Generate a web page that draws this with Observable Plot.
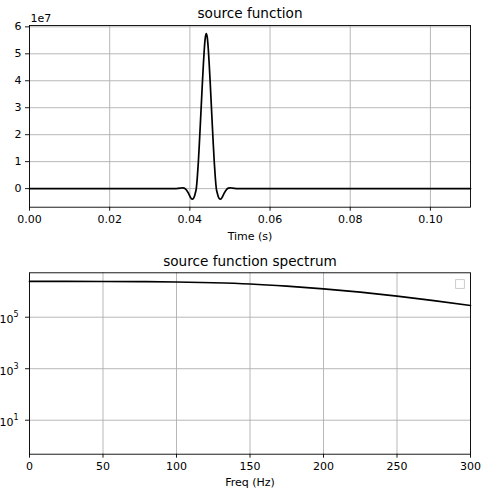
<!DOCTYPE html>
<html>
<head>
<meta charset="utf-8">
<script src="https://cdn.jsdelivr.net/npm/d3@7"></script>
<script src="https://cdn.jsdelivr.net/npm/@observablehq/plot@0.6"></script>
<style>
  html, body { margin: 0; padding: 0; background: white; }
  #chart { position: relative; width: 481px; height: 492px; background: white; }
  #chart svg { display: block; }
</style>
</head>
<body>
<div id="chart"></div>
<script>
// ---- data ----
const pulseTime = [0, 0.02, 0.03, 0.0366, 0.0376, 0.0381, 0.0386, 0.0391, 0.0396, 0.0401, 0.04035, 0.0406, 0.04085, 0.0411, 0.04135, 0.0416, 0.04185, 0.0421, 0.04235, 0.0426, 0.04285, 0.0431, 0.04335, 0.0436, 0.04385, 0.0441,
  0.04435, 0.0446, 0.04485, 0.0451, 0.04535, 0.0456, 0.04585, 0.0461, 0.04635, 0.0466, 0.04685, 0.0471, 0.04735, 0.0476, 0.04785, 0.0481, 0.0486, 0.0491, 0.0496, 0.0501, 0.0506, 0.0516, 0.06, 0.08, 0.11];
const pulseAmplitudeE7 = [0, 0, 0, 0, 0.015, 0.03, 0.02, -0.04, -0.16, -0.31, -0.37, -0.39, -0.37, -0.30, -0.17, 0.0, 0.40, 0.95, 1.62, 2.35, 3.10, 3.85, 4.55, 5.17, 5.60, 5.75,
  5.60, 5.17, 4.55, 3.85, 3.10, 2.35, 1.62, 0.95, 0.40, 0.0, -0.17, -0.30, -0.37, -0.39, -0.37, -0.31, -0.16, -0.04, 0.02, 0.03, 0.015, 0, 0, 0, 0];

const spectrumFreq = [0, 25, 50, 75, 100, 125, 150, 175, 200, 225, 250, 275, 300];
const spectrumAmplitude = [2.45e6, 2.45e6, 2.44e6, 2.40e6, 2.33e6, 2.18e6, 1.95e6, 1.62e6, 1.27e6, 9.4e5, 6.6e5, 4.4e5, 2.85e5];

const timeTicks = [0, 0.02, 0.04, 0.06, 0.08, 0.10];
const amplitudeTicks = [0, 1, 2, 3, 4, 5, 6];
const freqTicks = [0, 50, 100, 150, 200, 250, 300];
const logTicks = [10, 1000, 100000];
const logTickBase = "10";
const logTickExponents = ["1", "3", "5"];

const topTitle = "source function";
const bottomTitle = "source function spectrum";
const topXLabel = "Time (s)";
const bottomXLabel = "Freq (Hz)";
const offsetLabel = "1e7";

// ---- build ----
const pulse = pulseTime.map((t, i) => ({t, v: pulseAmplitudeE7[i]}));
const spectrum = spectrumFreq.map((f, i) => ({f, a: spectrumAmplitude[i]}));
const logLabels = logTicks.map((v, i) => ({v, e: logTickExponents[i]}));

const FONT = "'DejaVu Sans', sans-serif";
const GRID = {stroke: "#b0b0b0", strokeOpacity: 1, strokeWidth: 0.9};
const plotStyle = {fontFamily: FONT, fontSize: "11px", color: "black", background: "white", overflow: "visible"};
const AXIS = {tickSize: 4, tickPadding: 4, label: null, strokeWidth: 0.9, fontSize: 11};

const topPlot = Plot.plot({
  width: 481, height: 250,
  marginTop: 25, marginBottom: 43.3, marginLeft: 29, marginRight: 11,
  style: plotStyle,
  x: {domain: [0, 0.11]},
  y: {domain: [-0.69, 6.05]},
  marks: [
    Plot.gridX(timeTicks, GRID),
    Plot.gridY(amplitudeTicks, GRID),
    Plot.line(pulse, {x: "t", y: "v", stroke: "black", strokeWidth: 1.7, curve: "monotone-x"}),
    Plot.frame({stroke: "black", strokeWidth: 0.9}),
    Plot.axisX(timeTicks, {...AXIS, tickFormat: d3.format(".2f")}),
    Plot.axisY(amplitudeTicks, {...AXIS, tickFormat: d => String(d)}),
    Plot.text([topTitle], {frameAnchor: "top", lineAnchor: "middle", dy: -12, fontSize: 13.6, fill: "black"}),
    Plot.text([topXLabel], {frameAnchor: "bottom", lineAnchor: "middle", dy: 29.3, fontSize: 11, fill: "black"}),
    Plot.text([offsetLabel], {frameAnchor: "top-left", lineAnchor: "middle", dx: 1, dy: -6.7, textAnchor: "start", fontSize: 11, fill: "black"})
  ]
});

const bottomPlot = Plot.plot({
  width: 481, height: 242,
  marginTop: 22.3, marginBottom: 38.3, marginLeft: 29, marginRight: 11,
  style: plotStyle,
  x: {domain: [0, 300]},
  y: {type: "log", domain: [0.479, 5.3e6]},
  marks: [
    Plot.gridX(freqTicks, GRID),
    Plot.gridY(logTicks, GRID),
    Plot.line(spectrum, {x: "f", y: "a", stroke: "black", strokeWidth: 1.7, curve: "monotone-x"}),
    Plot.frame({stroke: "black", strokeWidth: 0.9}),
    Plot.axisX(freqTicks, {...AXIS, tickFormat: d => String(d)}),
    Plot.axisY(logTicks, {...AXIS, tickFormat: () => ""}),
    Plot.text(logLabels, {y: "v", text: () => logTickBase, frameAnchor: "left", textAnchor: "end", lineAnchor: "middle", dx: -16, dy: 2.5, fontSize: 11, fill: "black"}),
    Plot.text(logLabels, {y: "v", text: "e", frameAnchor: "left", textAnchor: "start", lineAnchor: "middle", dx: -16, dy: -2.5, fontSize: 8, fill: "black"}),
    Plot.text([bottomTitle], {frameAnchor: "top", lineAnchor: "middle", dy: -11.3, fontSize: 13.6, fill: "black"}),
    Plot.text([bottomXLabel], {frameAnchor: "bottom", lineAnchor: "middle", dy: 28.6, fontSize: 11, fill: "black"}),
    Plot.dot([0], {frameAnchor: "top-right", dx: -10.5, dy: 11.2, symbol: "square", r: 5, stroke: "#cccccc", strokeWidth: 1, fill: "white"})
  ]
});

const chart = document.getElementById("chart");
chart.appendChild(topPlot);
chart.appendChild(bottomPlot);
</script>
</body>
</html>
